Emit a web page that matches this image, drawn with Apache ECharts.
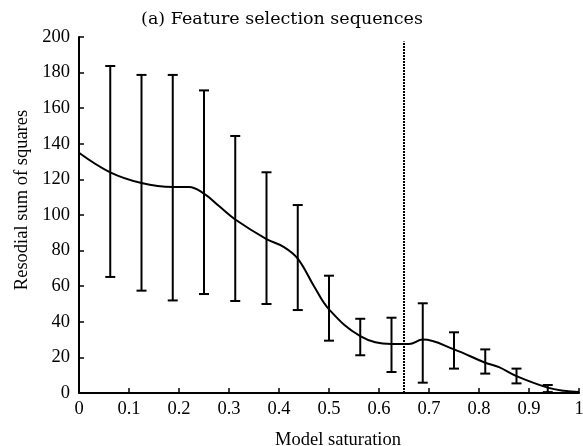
<!DOCTYPE html>
<html>
<head>
<meta charset="utf-8">
<script src="https://cdn.jsdelivr.net/npm/echarts@6/dist/echarts.min.js"></script>
<style>
  html, body { margin: 0; padding: 0; background: #fff; }
  #chart { width: 583px; height: 446px; }
</style>
</head>
<body>
<div id="chart"></div>
<script>
// mean residual curve (x, y)
var curveX = [0, 0.0625, 0.125, 0.1875, 0.22, 0.25, 0.28, 0.3125, 0.375, 0.41, 0.4375, 0.47, 0.5, 0.5625, 0.625, 0.66, 0.6875, 0.75, 0.8125, 0.84, 0.875, 0.9375, 0.97, 1];
var curveY = [135, 124, 118, 115.8, 115.8, 112, 105, 97.5, 86.5, 82, 75.5, 60, 47, 32, 27.5, 27.5, 30, 24.5, 17, 14.5, 9.5, 3, 1.2, 0.5];

// error bars: x position, lower and upper bound
var barX = [0.0625, 0.125, 0.1875, 0.25, 0.3125, 0.375, 0.4375, 0.5, 0.5625, 0.625, 0.6875, 0.75, 0.8125, 0.875, 0.9375];
var barLow = [65.2, 57.5, 52, 55.6, 51.7, 50, 46.6, 29.4, 21.2, 11.8, 5.8, 13.7, 10.9, 5.4, 0.5];
var barHigh = [183.7, 178.7, 178.7, 170, 144.4, 124, 105.6, 65.9, 41.7, 42.3, 50.4, 34.1, 24.5, 13.7, 4.5];

// dotted threshold line
var cutX = 0.65;
var cutTop = 197.5;

var chart = echarts.init(document.getElementById('chart'));

var curveData = [];
for (var i = 0; i < curveX.length; i++) {
    curveData.push([curveX[i], curveY[i]]);
}
var barData = [];
for (var j = 0; j < barX.length; j++) {
    barData.push([barX[j], barLow[j], barHigh[j]]);
}

var option = {
    animation: false,
    textStyle: { fontFamily: 'Liberation Serif' },
    title: {
        text: '(a) Feature selection sequences',
        left: 277,
        top: 5,
        textAlign: 'center',
        textStyle: { fontFamily: 'DejaVu Serif', fontWeight: 'normal', fontSize: 17.5, color: '#000' }
    },
    grid: { left: 79, right: 4, top: 37, bottom: 53, outerBoundsMode: 'none', containLabel: false },
    xAxis: {
        type: 'value',
        min: 0,
        max: 1,
        interval: 0.1,
        name: 'Model saturation',
        nameLocation: 'middle',
        nameGap: 38,
        nameTextStyle: { fontSize: 18.5, color: '#000', padding: [0, 0, 0, 18] },
        axisLine: { lineStyle: { color: '#000', width: 2 } },
        axisTick: { inside: true, length: 5, lineStyle: { color: '#000', width: 1.5 } },
        axisLabel: { fontSize: 18.5, color: '#000', margin: 7 },
        splitLine: { show: false }
    },
    yAxis: {
        type: 'value',
        min: 0,
        max: 200,
        interval: 20,
        name: 'Resodial sum of squares',
        nameLocation: 'middle',
        nameGap: 46,
        nameTextStyle: { fontSize: 18.5, color: '#000', padding: [0, 0, 0, 30] },
        axisLine: { show: true, lineStyle: { color: '#000', width: 2 } },
        axisTick: { show: true, inside: true, length: 5, lineStyle: { color: '#000', width: 1.5 } },
        axisLabel: { fontSize: 18.5, color: '#000', margin: 9 },
        splitLine: { show: false }
    },
    series: [
        {
            type: 'line',
            data: curveData,
            smooth: 0.4,
            showSymbol: false,
            lineStyle: { color: '#000', width: 2 },
            z: 3
        },
        {
            type: 'custom',
            data: barData,
            encode: { x: 0, y: [1, 2] },
            renderItem: function (params, api) {
                var lo = api.coord([api.value(0), api.value(1)]);
                var hi = api.coord([api.value(0), api.value(2)]);
                var w = 5;
                var st = { stroke: '#000', lineWidth: 2 };
                return {
                    type: 'group',
                    children: [
                        { type: 'line', shape: { x1: lo[0], y1: lo[1], x2: hi[0], y2: hi[1] }, style: st },
                        { type: 'line', shape: { x1: lo[0] - w, y1: lo[1], x2: lo[0] + w, y2: lo[1] }, style: st },
                        { type: 'line', shape: { x1: hi[0] - w, y1: hi[1], x2: hi[0] + w, y2: hi[1] }, style: st }
                    ]
                };
            },
            z: 4
        },
        {
            type: 'line',
            data: [[cutX, 0], [cutX, cutTop]],
            showSymbol: false,
            lineStyle: { color: '#000', width: 2, type: [2, 1] },
            z: 2
        }
    ]
};

chart.setOption(option);
</script>
</body>
</html>
